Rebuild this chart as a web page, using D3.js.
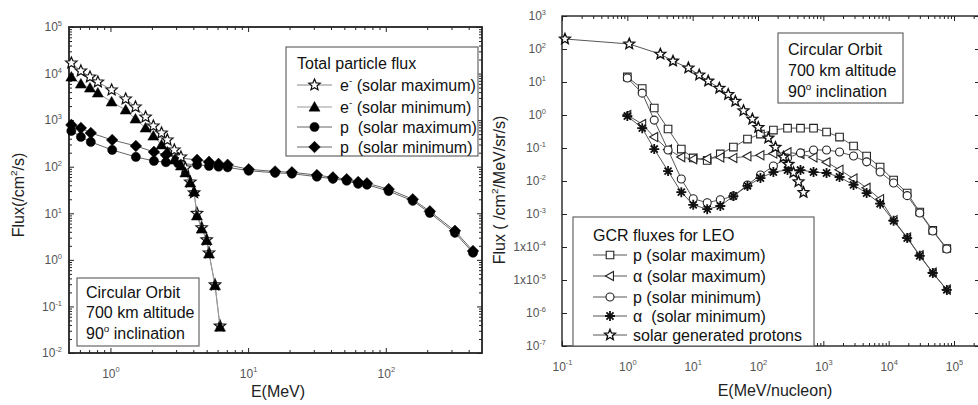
<!DOCTYPE html>
<html>
<head>
<meta charset="utf-8">
<script src="https://cdn.jsdelivr.net/npm/d3@7"></script>
<style>
  body { margin: 0; background: #fff; }
  svg { display: block; font-family: "Liberation Sans", Arial, sans-serif; }
</style>
</head>
<body>
<div id="chart"></div>
<script>
// ---------- left panel data: total particle flux ----------
const electronEnergy = [0.52, 0.61, 0.71, 0.81, 1.02, 1.29, 1.52, 1.8, 2.05, 2.35, 2.59, 2.91, 3.25, 3.5, 3.8, 4.05, 4.25, 4.6, 5.0, 5.2, 5.75, 6.25];
const electronSolarMax = [16900, 11400, 8450, 6600, 4450, 2850, 1920, 1170, 750, 530, 376, 229, 162, 94, 47, 27.6, 10, 4.9, 2.7, 1.41, 0.29, 0.038];
const electronSolarMin = [8450, 5980, 4900, 3840, 2460, 1660, 1060, 680, 457, 294, 208, 140, 104, 74, 45, 29, 8.8, 4.6, 2.6, 1.35, 0.28, 0.036];

const protonEnergy = [0.52, 0.61, 0.72, 1.03, 1.53, 2.07, 2.53, 3.1, 4.26, 5.2, 6.1, 7.1, 10.1, 15.7, 20.8, 31.6, 41.3, 52, 63, 73, 105, 157, 209, 318, 430];
const protonSolarMax = [587, 437, 340, 229, 162, 133, 125, 118, 110, 104, 100, 97, 82, 74, 71, 61, 55, 50, 43, 41, 30, 18.5, 10.2, 3.8, 1.42];
const protonSolarMin = [790, 680, 530, 376, 279, 208, 179, 155, 140, 127, 115, 110, 88, 79, 76, 66, 59, 54, 47, 44, 33, 20, 11, 4.2, 1.55];

const leftXTicks = [1, 10, 100];
const leftXTickLabels = ["10^{0}", "10^{1}", "10^{2}"];
const leftYTicks = [1e-2, 1e-1, 1e0, 1e1, 1e2, 1e3, 1e4, 1e5];
const leftYTickLabels = ["10^{-2}", "10^{-1}", "10^{0}", "10^{1}", "10^{2}", "10^{3}", "10^{4}", "10^{5}"];
const leftLegendLabels = ["e^{-} (solar maximum)", "e^{-} (solar minimum)", "p  (solar maximum)", "p  (solar minimum)"];

// ---------- right panel data: GCR fluxes for LEO ----------
const gcrEnergy = [1.0, 1.69, 2.58, 4.2, 6.7, 10.2, 16.7, 26.5, 42, 69, 109, 172, 283, 447, 708, 1120, 1770, 2900, 4600, 7400, 11900, 19200, 29900, 47300, 77600];
const pSolarMax = [14.2, 6.3, 1.63, 0.377, 0.093, 0.05, 0.042, 0.066, 0.107, 0.187, 0.265, 0.35, 0.40, 0.40, 0.40, 0.305, 0.215, 0.115, 0.057, 0.0266, 0.0107, 0.0043, 0.00115, 3.2e-4, 9.0e-5];
const alphaSolarMax = [1.0, 0.53, 0.215, 0.09, 0.053, 0.046, 0.048, 0.052, 0.05, 0.056, 0.06, 0.068, 0.074, 0.066, 0.052, 0.037, 0.022, 0.0118, 0.0062, 0.0028, 6.5e-4, 1.95e-4, 5.6e-5, 1.67e-5, 5.1e-6];
const pSolarMin = [13.2, 4.6, 0.70, 0.087, 0.0115, 0.0029, 0.0022, 0.0027, 0.0035, 0.0076, 0.0152, 0.0285, 0.05, 0.071, 0.087, 0.087, 0.076, 0.057, 0.038, 0.0187, 0.0087, 0.0036, 0.00107, 3.05e-4, 8.7e-5];
const alphaSolarMin = [0.93, 0.40, 0.093, 0.020, 0.0046, 0.0019, 0.0014, 0.00175, 0.0035, 0.0071, 0.0123, 0.0187, 0.0215, 0.0215, 0.0187, 0.0175, 0.0132, 0.0076, 0.0043, 0.00205, 6.2e-4, 1.87e-4, 5.4e-5, 1.63e-5, 5.0e-6];

const solarProtonEnergy = [0.111, 1.07, 3.2, 5.0, 8.6, 12.6, 17.3, 25.6, 35, 45, 60, 82, 101, 144, 185, 245, 292, 349, 417, 497];
const solarProtonFlux = [201, 142, 70, 43, 26.6, 16.3, 10.7, 6.5, 4.2, 2.6, 1.35, 0.75, 0.42, 0.2, 0.105, 0.053, 0.032, 0.018, 0.0095, 0.0045];

const rightXTicks = [0.1, 1, 10, 100, 1e3, 1e4, 1e5];
const rightXTickLabels = ["10^{-1}", "10^{0}", "10^{1}", "10^{2}", "10^{3}", "10^{4}", "10^{5}"];
const rightYTicks = [1e-7, 1e-6, 1e-5, 1e-4, 1e-3, 1e-2, 1e-1, 1e0, 1e1, 1e2, 1e3];
const rightYTickLabels = ["10^{-7}", "10^{-6}", "1x10^{-5}", "1x10^{-4}", "10^{-3}", "10^{-2}", "10^{-1}", "10^{0}", "10^{1}", "10^{2}", "10^{3}"];
const rightLegendLabels = ["p (solar maximum)", "\u03b1 (solar maximum)", "p (solar minimum)", "\u03b1  (solar minimum)", "solar generated protons"];

const orbitLines = ["Circular Orbit", "700 km altitude", "90^{o} inclination"];

// ---------- helpers ----------
const svg = d3.select("#chart").append("svg")
  .attr("width", 978)
  .attr("height", 405);

// text with ^{...} superscripts
function rich(sel, str, size) {
  const parts = str.split(/\^\{([^}]*)\}/);
  let shifted = 0;
  parts.forEach((p, i) => {
    if (p === "") return;
    const ts = sel.append("tspan").text(p);
    if (i % 2 === 1) {
      ts.attr("dy", -size * 0.42).attr("font-size", size * 0.62);
      shifted = size * 0.42;
    } else if (shifted) {
      ts.attr("dy", shifted);
      shifted = 0;
    }
  });
}

// marker shapes, r = half size
function shapePath(type, r) {
  switch (type) {
    case "square": return `M${-r},${-r}h${2 * r}v${2 * r}h${-2 * r}Z`;
    case "diamond": return `M0,${-r}L${r},0L0,${r}L${-r},0Z`;
    case "triUp": return `M0,${-r}L${r},${r * 0.75}L${-r},${r * 0.75}Z`;
    case "triLeft": return `M${-r},0L${r * 0.75},${-r}L${r * 0.75},${r}Z`;
    case "circle": return d3.symbol(d3.symbolCircle, Math.PI * r * r)();
    case "star": {
      const p = d3.path();
      for (let k = 0; k < 10; k++) {
        const a = -Math.PI / 2 + k * Math.PI / 5;
        const rr = k % 2 ? r * 0.45 : r;
        if (k === 0) p.moveTo(rr * Math.cos(a), rr * Math.sin(a));
        else p.lineTo(rr * Math.cos(a), rr * Math.sin(a));
      }
      p.closePath();
      return p.toString();
    }
    case "asterisk": {
      const d = r * 0.707;
      return `M${-r},0L${r},0M0,${-r}L0,${r}M${-d},${-d}L${d},${d}M${-d},${d}L${d},${-d}`;
    }
  }
}

function minorTicks(domain) {
  const out = [];
  const lo = Math.floor(Math.log10(domain[0])), hi = Math.ceil(Math.log10(domain[1]));
  for (let e = lo; e <= hi; e++) {
    for (let m = 2; m <= 9; m++) {
      const v = m * Math.pow(10, e);
      if (v > domain[0] && v < domain[1]) out.push(v);
    }
  }
  return out;
}

function labelTicks(axisG, ticks, labels, size) {
  axisG.selectAll(".tick text").each(function(d) {
    const t = d3.select(this);
    const i = ticks.indexOf(d);
    t.text(null).attr("font-size", size).attr("fill", "#555");
    rich(t, labels[i], size);
  });
}

function drawAxes(g, x, y, w, h, o) {
  const major = 5, minor = 3;
  const clean = sel => sel.select(".domain").remove();

  const bottom = g.append("g").attr("transform", `translate(0,${h})`)
    .call(d3.axisBottom(x).tickValues(o.xTicks).tickSizeInner(-major).tickSizeOuter(0).tickPadding(o.xPad))
    .call(clean);
  labelTicks(bottom, o.xTicks, o.xLabels, 12);
  g.append("g").attr("transform", `translate(0,${h})`)
    .call(d3.axisBottom(x).tickValues(minorTicks(x.domain())).tickSize(-minor).tickFormat(""))
    .call(clean);

  g.append("g")
    .call(d3.axisTop(x).tickValues(o.xTicks).tickSize(-major).tickFormat(""))
    .call(clean);
  g.append("g")
    .call(d3.axisTop(x).tickValues(minorTicks(x.domain())).tickSize(-minor).tickFormat(""))
    .call(clean);

  const left = g.append("g")
    .call(d3.axisLeft(y).tickValues(o.yTicks).tickSizeInner(-major).tickSizeOuter(0).tickPadding(o.yPad))
    .call(clean);
  labelTicks(left, o.yTicks, o.yLabels, 12);
  g.append("g").attr("transform", `translate(${w},0)`)
    .call(d3.axisRight(y).tickValues(o.yTicks).tickSize(-major).tickFormat(""))
    .call(clean);
  if (o.yMinor) {
    g.append("g")
      .call(d3.axisLeft(y).tickValues(minorTicks(y.domain())).tickSize(-minor).tickFormat(""))
      .call(clean);
    g.append("g").attr("transform", `translate(${w},0)`)
      .call(d3.axisRight(y).tickValues(minorTicks(y.domain())).tickSize(-minor).tickFormat(""))
      .call(clean);
  }
  g.selectAll(".tick line").attr("stroke", "#222");

  g.append("rect")
    .attr("width", w).attr("height", h)
    .attr("fill", "none")
    .attr("stroke", "#222")
    .attr("stroke-width", o.frameWidth);
}

function drawSeries(g, x, y, xs, ys, st) {
  const pts = xs.map((e, i) => [e, ys[i]]);
  g.append("path")
    .datum(pts)
    .attr("fill", "none")
    .attr("stroke", st.line)
    .attr("stroke-width", 1)
    .attr("d", d3.line().x(d => x(d[0])).y(d => y(d[1])));
  g.append("g").selectAll("path")
    .data(pts)
    .join("path")
    .attr("transform", d => `translate(${x(d[0])},${y(d[1])})`)
    .attr("d", shapePath(st.shape, st.r))
    .attr("fill", st.fill)
    .attr("stroke", st.stroke)
    .attr("stroke-width", st.sw);
}

function drawLegend(g, o) {
  g.append("rect")
    .attr("x", o.x).attr("y", o.y).attr("width", o.w).attr("height", o.h)
    .attr("fill", "#fff").attr("stroke", "#666").attr("stroke-width", 1.2);
  g.append("text").attr("x", o.textX - (o.titleIndent || 0)).attr("y", o.titleY)
    .attr("font-size", 16).attr("fill", "#111").text(o.title);
  o.labels.forEach((lab, i) => {
    const cy = o.rowY[i];
    const st = o.styles[i];
    g.append("line")
      .attr("x1", o.lineX[0]).attr("x2", o.lineX[1]).attr("y1", cy).attr("y2", cy)
      .attr("stroke", st.line).attr("stroke-width", 1);
    g.append("path")
      .attr("transform", `translate(${(o.lineX[0] + o.lineX[1]) / 2},${cy})`)
      .attr("d", shapePath(st.shape, st.r))
      .attr("fill", st.fill).attr("stroke", st.stroke).attr("stroke-width", st.sw);
    const t = g.append("text").attr("x", o.textX).attr("y", cy + 6)
      .attr("font-size", 16).attr("fill", "#111").attr("xml:space", "preserve");
    rich(t, lab, 16);
  });
}

function drawOrbitBox(g, x, y, w, h, tx, baselines) {
  g.append("rect").attr("x", x).attr("y", y).attr("width", w).attr("height", h)
    .attr("fill", "#fff").attr("stroke", "#666").attr("stroke-width", 1.2);
  orbitLines.forEach((s, i) => {
    const t = g.append("text").attr("x", tx).attr("y", baselines[i])
      .attr("font-size", 16).attr("fill", "#111");
    rich(t, s, 16);
  });
}

// ---------- left panel ----------
const L = { x: 69, y: 27, w: 413, h: 326 };
const gl = svg.append("g").attr("transform", `translate(${L.x},${L.y})`);
const xl = d3.scaleLog().domain([0.5, 500]).range([0, L.w]);
const yl = d3.scaleLog().domain([1e-2, 1e5]).range([L.h, 0]);

drawAxes(gl, xl, yl, L.w, L.h, {
  xTicks: leftXTicks, xLabels: leftXTickLabels, xPad: 16,
  yTicks: leftYTicks, yLabels: leftYTickLabels, yPad: 7,
  yMinor: true, frameWidth: 1.8
});

const leftStyles = [
  { shape: "star", r: 6, fill: "#fff", stroke: "#111", sw: 1.2, line: "#888" },
  { shape: "triUp", r: 5.5, fill: "#000", stroke: "#000", sw: 0.5, line: "#999" },
  { shape: "circle", r: 4.6, fill: "#000", stroke: "#000", sw: 0.5, line: "#666" },
  { shape: "diamond", r: 5.8, fill: "#000", stroke: "#000", sw: 0.5, line: "#666" }
];
drawSeries(gl, xl, yl, protonEnergy, protonSolarMax, leftStyles[2]);
drawSeries(gl, xl, yl, protonEnergy, protonSolarMin, leftStyles[3]);
drawSeries(gl, xl, yl, electronEnergy, electronSolarMax, leftStyles[0]);
drawSeries(gl, xl, yl, electronEnergy, electronSolarMin, leftStyles[1]);

drawLegend(svg, {
  x: 286, y: 47, w: 192, h: 109,
  title: "Total particle flux", titleY: 69, textX: 340, titleIndent: 43,
  labels: leftLegendLabels, rowY: [85, 107, 127, 147],
  lineX: [297, 332], styles: leftStyles
});
drawOrbitBox(svg, 77, 278, 122, 68, 86, [298, 318, 339]);

svg.append("text")
  .attr("transform", "translate(24,195) rotate(-90)")
  .attr("text-anchor", "middle").attr("font-size", 16).attr("fill", "#222")
  .call(t => rich(t, "Flux(/cm^{2}/s)", 16));
svg.append("text")
  .attr("x", 278).attr("y", 397)
  .attr("text-anchor", "middle").attr("font-size", 16).attr("fill", "#222")
  .text("E(MeV)");

// ---------- right panel ----------
const R = { x: 562, y: 16, w: 418, h: 330 };
const gr = svg.append("g").attr("transform", `translate(${R.x},${R.y})`);
const xr = d3.scaleLog().domain([0.1, 2.5e5]).range([0, R.w]);
const yr = d3.scaleLog().domain([1e-7, 1e3]).range([R.h, 0]);

drawAxes(gr, xr, yr, R.w, R.h, {
  xTicks: rightXTicks, xLabels: rightXTickLabels, xPad: 16,
  yTicks: rightYTicks, yLabels: rightYTickLabels, yPad: 16,
  yMinor: false, frameWidth: 1.4
});

const rightStyles = [
  { shape: "square", r: 3.8, fill: "#fff", stroke: "#222", sw: 1.1, line: "#555" },
  { shape: "triLeft", r: 4.6, fill: "#fff", stroke: "#222", sw: 1.1, line: "#555" },
  { shape: "circle", r: 4, fill: "#fff", stroke: "#222", sw: 1.1, line: "#555" },
  { shape: "asterisk", r: 5, fill: "none", stroke: "#111", sw: 1.8, line: "#555" },
  { shape: "star", r: 5.6, fill: "#fff", stroke: "#111", sw: 1.4, line: "#555" }
];
drawSeries(gr, xr, yr, gcrEnergy, pSolarMax, rightStyles[0]);
drawSeries(gr, xr, yr, gcrEnergy, alphaSolarMax, rightStyles[1]);
drawSeries(gr, xr, yr, gcrEnergy, pSolarMin, rightStyles[2]);
drawSeries(gr, xr, yr, gcrEnergy, alphaSolarMin, rightStyles[3]);
drawSeries(gr, xr, yr, solarProtonEnergy, solarProtonFlux, rightStyles[4]);

drawLegend(svg, {
  x: 573, y: 217, w: 241, h: 129,
  title: "GCR fluxes for LEO", titleY: 241, textX: 633, titleIndent: 40,
  labels: rightLegendLabels, rowY: [255, 276, 297, 316, 335],
  lineX: [593, 627], styles: rightStyles
});
drawOrbitBox(svg, 778, 33, 125, 70, 788, [55, 76, 97]);

svg.append("text")
  .attr("transform", "translate(505,190) rotate(-90)")
  .attr("text-anchor", "middle").attr("font-size", 16).attr("fill", "#222")
  .call(t => rich(t, "Flux ( /cm^{2}/MeV/sr/s)", 16));
svg.append("text")
  .attr("x", 775).attr("y", 396)
  .attr("text-anchor", "middle").attr("font-size", 16).attr("fill", "#222")
  .text("E(MeV/nucleon)");
</script>
</body>
</html>
